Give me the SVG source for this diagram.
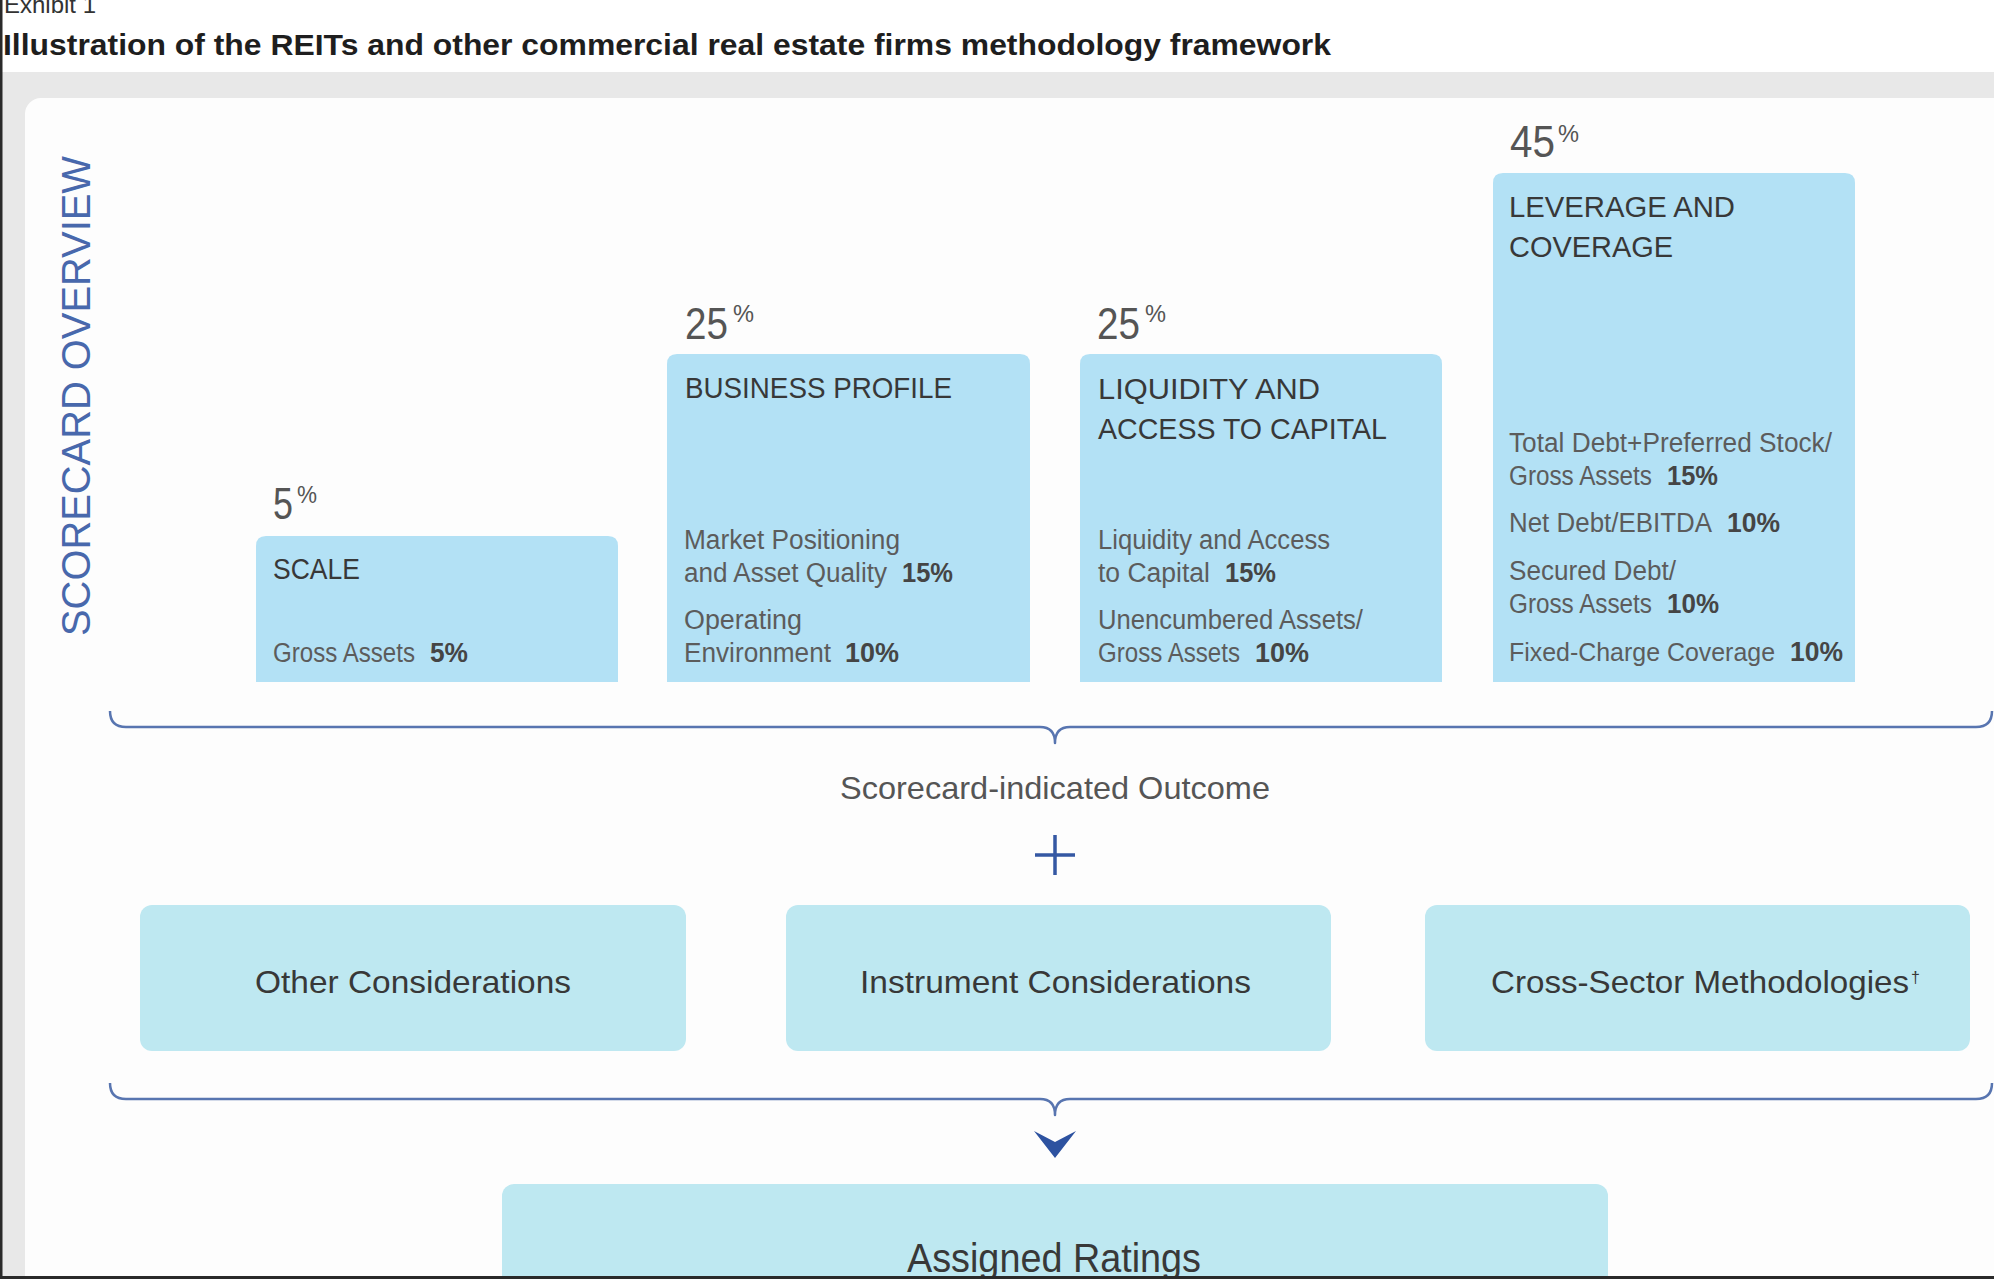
<svg xmlns="http://www.w3.org/2000/svg" width="1994" height="1279" viewBox="0 0 1994 1279">
<style>
text{font-family:"Liberation Sans",Arial,sans-serif}
.pct{font-size:44px;fill:#555}
.sup{font-size:24px;fill:#555}
.ttl{font-size:30px;fill:#383838}
.bd{font-size:27px;fill:#5c5c5c}
.bb{font-size:27px;font-weight:bold;fill:#454545}
.bar{fill:#b3e1f5}
.box{fill:#bee8f1}
.lbl{font-size:32px;fill:#383838}
.brace{fill:none;stroke:#5875b0;stroke-width:2.5;stroke-linejoin:round}
</style>
<rect x="0" y="0" width="1994" height="1279" fill="#ffffff"/>
<rect x="0" y="72" width="1994" height="1207" fill="#e8e8e8"/>
<rect x="25" y="98" width="2000" height="1250" rx="16" fill="#fdfdfd"/>
<rect x="0" y="0" width="2.5" height="1279" fill="#2a2a2a"/>

<g id="header">
<text x="4" y="13" font-size="24" fill="#333" textLength="92" lengthAdjust="spacingAndGlyphs">Exhibit 1</text>
<text x="3" y="55" font-size="30" font-weight="bold" fill="#1e1e1e" textLength="1328" lengthAdjust="spacingAndGlyphs">Illustration of the REITs and other commercial real estate firms methodology framework</text>
</g>

<g id="scorecard-label">
<text transform="translate(90,636) rotate(-90)" x="0" y="0" font-size="41" fill="#4868ac" textLength="480" lengthAdjust="spacingAndGlyphs">SCORECARD OVERVIEW</text>
</g>

<g id="scale">
<text class="pct" x="273" y="519"><tspan textLength="20" lengthAdjust="spacingAndGlyphs">5</tspan><tspan class="sup" x="297" y="503" textLength="20" lengthAdjust="spacingAndGlyphs">%</tspan></text>
<path class="bar" d="M256 682 V546 Q256 536 266 536 H608 Q618 536 618 546 V682 Z"/>
<text class="ttl" x="273" y="579" textLength="87" lengthAdjust="spacingAndGlyphs">SCALE</text>
<text class="bd" x="273" y="662"><tspan textLength="142" lengthAdjust="spacingAndGlyphs">Gross Assets</tspan><tspan class="bb" x="430" textLength="38" lengthAdjust="spacingAndGlyphs">5%</tspan></text>
</g>

<g id="business-profile">
<text class="pct" x="685" y="339"><tspan textLength="43" lengthAdjust="spacingAndGlyphs">25</tspan><tspan class="sup" x="733" y="322" textLength="21" lengthAdjust="spacingAndGlyphs">%</tspan></text>
<path class="bar" d="M667 682 V364 Q667 354 677 354 H1020 Q1030 354 1030 364 V682 Z"/>
<text class="ttl" x="685" y="398" textLength="267" lengthAdjust="spacingAndGlyphs">BUSINESS PROFILE</text>
<text class="bd" x="684" y="549" textLength="216" lengthAdjust="spacingAndGlyphs">Market Positioning</text>
<text class="bd" x="684" y="582"><tspan textLength="203" lengthAdjust="spacingAndGlyphs">and Asset Quality</tspan><tspan class="bb" x="902" textLength="51" lengthAdjust="spacingAndGlyphs">15%</tspan></text>
<text class="bd" x="684" y="629" textLength="118" lengthAdjust="spacingAndGlyphs">Operating</text>
<text class="bd" x="684" y="662"><tspan textLength="147" lengthAdjust="spacingAndGlyphs">Environment</tspan><tspan class="bb" x="845" textLength="54" lengthAdjust="spacingAndGlyphs">10%</tspan></text>
</g>

<g id="liquidity">
<text class="pct" x="1097" y="339"><tspan textLength="43" lengthAdjust="spacingAndGlyphs">25</tspan><tspan class="sup" x="1145" y="322" textLength="21" lengthAdjust="spacingAndGlyphs">%</tspan></text>
<path class="bar" d="M1080 682 V364 Q1080 354 1090 354 H1432 Q1442 354 1442 364 V682 Z"/>
<text class="ttl" x="1098" y="399" textLength="222" lengthAdjust="spacingAndGlyphs">LIQUIDITY AND</text>
<text class="ttl" x="1098" y="439" textLength="289" lengthAdjust="spacingAndGlyphs">ACCESS TO CAPITAL</text>
<text class="bd" x="1098" y="549" textLength="232" lengthAdjust="spacingAndGlyphs">Liquidity and Access</text>
<text class="bd" x="1098" y="582"><tspan textLength="112" lengthAdjust="spacingAndGlyphs">to Capital</tspan><tspan class="bb" x="1225" textLength="51" lengthAdjust="spacingAndGlyphs">15%</tspan></text>
<text class="bd" x="1098" y="629" textLength="265" lengthAdjust="spacingAndGlyphs">Unencumbered Assets/</text>
<text class="bd" x="1098" y="662"><tspan textLength="142" lengthAdjust="spacingAndGlyphs">Gross Assets</tspan><tspan class="bb" x="1255" textLength="54" lengthAdjust="spacingAndGlyphs">10%</tspan></text>
</g>

<g id="leverage">
<text class="pct" x="1510" y="157"><tspan textLength="45" lengthAdjust="spacingAndGlyphs">45</tspan><tspan class="sup" x="1558" y="142" textLength="21" lengthAdjust="spacingAndGlyphs">%</tspan></text>
<path class="bar" d="M1493 682 V183 Q1493 173 1503 173 H1845 Q1855 173 1855 183 V682 Z"/>
<text class="ttl" x="1509" y="217" textLength="226" lengthAdjust="spacingAndGlyphs">LEVERAGE AND</text>
<text class="ttl" x="1509" y="257" textLength="164" lengthAdjust="spacingAndGlyphs">COVERAGE</text>
<text class="bd" x="1509" y="452" textLength="323" lengthAdjust="spacingAndGlyphs">Total Debt+Preferred Stock/</text>
<text class="bd" x="1509" y="485"><tspan textLength="143" lengthAdjust="spacingAndGlyphs">Gross Assets</tspan><tspan class="bb" x="1667" textLength="51" lengthAdjust="spacingAndGlyphs">15%</tspan></text>
<text class="bd" x="1509" y="532"><tspan textLength="203" lengthAdjust="spacingAndGlyphs">Net Debt/EBITDA</tspan><tspan class="bb" x="1727" textLength="53" lengthAdjust="spacingAndGlyphs">10%</tspan></text>
<text class="bd" x="1509" y="580" textLength="167" lengthAdjust="spacingAndGlyphs">Secured Debt/</text>
<text class="bd" x="1509" y="613"><tspan textLength="143" lengthAdjust="spacingAndGlyphs">Gross Assets</tspan><tspan class="bb" x="1667" textLength="52" lengthAdjust="spacingAndGlyphs">10%</tspan></text>
<text class="bd" x="1509" y="661"><tspan font-size="26" textLength="266" lengthAdjust="spacingAndGlyphs">Fixed-Charge Coverage</tspan><tspan class="bb" x="1790" textLength="53" lengthAdjust="spacingAndGlyphs">10%</tspan></text>
</g>

<g id="connectors">
<path class="brace" d="M110 711 Q110 727 126 727 L1040 727 Q1055 727 1055 743 Q1055 727 1070 727 L1976 727 Q1992 727 1992 711"/>
<path class="brace" d="M110 1083 Q110 1099 126 1099 L1040 1099 Q1055 1099 1055 1115 Q1055 1099 1070 1099 L1976 1099 Q1992 1099 1992 1083"/>
<path d="M1035 855 H1075 M1055 835 V875" stroke="#3558a3" stroke-width="3.5" fill="none"/>
<polygon points="1034,1131 1055,1142 1076,1131 1055,1158" fill="#2d52a0"/>
</g>

<g id="scorecard-outcome">
<text x="840" y="799" font-size="32" fill="#555" textLength="430" lengthAdjust="spacingAndGlyphs">Scorecard-indicated Outcome</text>
</g>

<g id="other-considerations">
<rect class="box" x="140" y="905" width="546" height="146" rx="12"/>
<text class="lbl" x="255" y="993" textLength="316" lengthAdjust="spacingAndGlyphs">Other Considerations</text>
</g>

<g id="instrument-considerations">
<rect class="box" x="786" y="905" width="545" height="146" rx="12"/>
<text class="lbl" x="860" y="993" textLength="391" lengthAdjust="spacingAndGlyphs">Instrument Considerations</text>
</g>

<g id="cross-sector">
<rect class="box" x="1425" y="905" width="545" height="146" rx="12"/>
<text class="lbl" x="1491" y="993"><tspan textLength="418" lengthAdjust="spacingAndGlyphs">Cross-Sector Methodologies</tspan><tspan x="1911" y="983" font-size="16">†</tspan></text>
</g>

<g id="assigned-ratings">
<rect class="box" x="502" y="1184" width="1106" height="140" rx="12"/>
<text x="907" y="1272" font-size="40" fill="#383838" textLength="294" lengthAdjust="spacingAndGlyphs">Assigned Ratings</text>
</g>
<rect x="0" y="1276" width="1994" height="3" fill="#2a2a2a"/>
</svg>
